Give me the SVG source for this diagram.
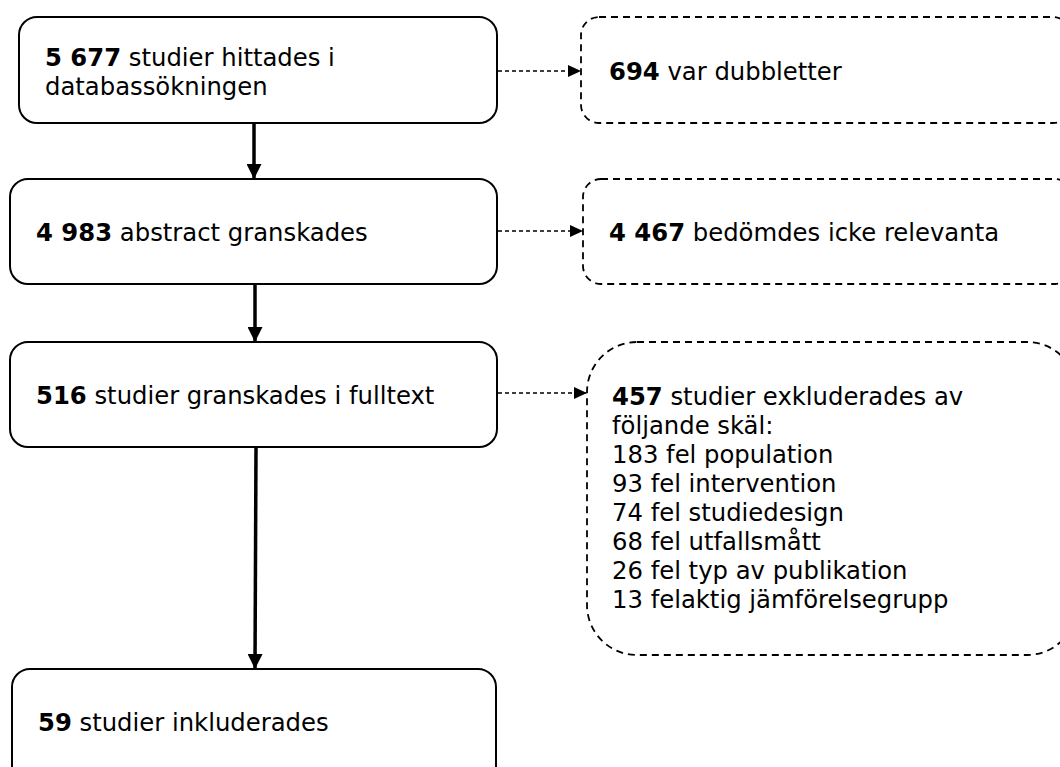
<svg xmlns="http://www.w3.org/2000/svg" width="1060" height="767" viewBox="0 0 1060 767">
<defs>
<style>
.box{fill:#fff;stroke:#000;stroke-width:2}
.dbox{fill:#fff;stroke:#000;stroke-width:1.8;stroke-dasharray:7 5}
.t{font-family:"DejaVu Sans","Verdana",sans-serif;font-size:24.3px;fill:#000}
.b{font-weight:bold}
.solid{stroke:#000;stroke-width:3.5;fill:none}
.dash{stroke:#000;stroke-width:1.3;stroke-dasharray:4 3;fill:none}
</style>
<marker id="ah" markerWidth="15" markerHeight="15" refX="15" refY="7.5" orient="auto" markerUnits="userSpaceOnUse"><path d="M0,0 L15,7.5 L0,15 Z" fill="#000"/></marker>
<marker id="ahs" markerWidth="13" markerHeight="12" refX="13" refY="6" orient="auto" markerUnits="userSpaceOnUse"><path d="M0,0 L13,6 L0,12 Z" fill="#000"/></marker>
</defs>
<g id="connectors">
<line class="solid" x1="254" y1="123" x2="254" y2="179" marker-end="url(#ah)"/>
<line class="solid" x1="255" y1="285" x2="255" y2="342" marker-end="url(#ah)"/>
<line class="solid" x1="256" y1="447" x2="255" y2="669" marker-end="url(#ah)"/>
<line class="dash" x1="498" y1="71" x2="581" y2="71" marker-end="url(#ahs)"/>
<line class="dash" x1="498" y1="231" x2="583" y2="231" marker-end="url(#ahs)"/>
<line class="dash" x1="498" y1="393" x2="587" y2="393" marker-end="url(#ahs)"/>
</g>
<g id="n1"><rect class="box" x="19" y="17" width="478" height="106" rx="18"/>
<text class="t" x="45" y="66"><tspan class="b">5 677</tspan> studier hittades i</text>
<text class="t" x="45" y="95">databassökningen</text></g>
<g id="n2"><rect class="box" x="10" y="179" width="487" height="105" rx="18"/>
<text class="t" x="36" y="241"><tspan class="b">4 983</tspan> abstract granskades</text></g>
<g id="n3"><rect class="box" x="10" y="342" width="487" height="105" rx="18"/>
<text class="t" x="36" y="404"><tspan class="b">516</tspan> studier granskades i fulltext</text></g>
<g id="n4"><rect class="box" x="12" y="669" width="484" height="115" rx="18"/>
<text class="t" x="38" y="731"><tspan class="b">59</tspan> studier inkluderades</text></g>
<g id="r1"><rect class="dbox" x="581" y="17" width="490" height="106" rx="18"/>
<text class="t" x="609" y="80"><tspan class="b">694</tspan> var dubbletter</text></g>
<g id="r2"><rect class="dbox" x="583" y="179" width="490" height="105" rx="18"/>
<text class="t" x="609" y="241"><tspan class="b">4 467</tspan> bedömdes icke relevanta</text></g>
<g id="r3"><rect class="dbox" x="587" y="342" width="490" height="313" rx="50"/>
<text class="t" x="612" y="405"><tspan class="b">457</tspan> studier exkluderades av</text>
<text class="t" x="612" y="434">följande skäl:</text>
<text class="t" x="612" y="463">183 fel population</text>
<text class="t" x="612" y="492">93 fel intervention</text>
<text class="t" x="612" y="521">74 fel studiedesign</text>
<text class="t" x="612" y="550">68 fel utfallsmått</text>
<text class="t" x="612" y="579">26 fel typ av publikation</text>
<text class="t" x="612" y="608">13 felaktig jämförelsegrupp</text></g>
</svg>
